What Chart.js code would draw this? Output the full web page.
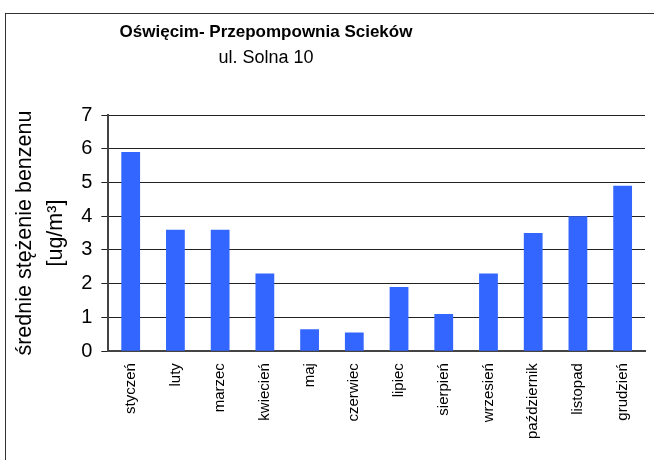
<!DOCTYPE html>
<html>
<head>
<meta charset="utf-8">
<script src="https://cdn.jsdelivr.net/npm/chart.js@4"></script>
<style>
  html, body { margin: 0; padding: 0; background: #fff; overflow: hidden; }
  #wrap { width: 654px; height: 460px; }
</style>
</head>
<body>
<div id="wrap"><canvas id="benzen"></canvas></div>
<script>
const months = ['styczeń', 'luty', 'marzec', 'kwiecień', 'maj', 'czerwiec',
  'lipiec', 'sierpień', 'wrzesień', 'październik', 'listopad', 'grudzień'];
const benzene = [5.9, 3.6, 3.6, 2.3, 0.65, 0.55, 1.9, 1.1, 2.3, 3.5, 4.0, 4.9];
const yTicks = [0, 1, 2, 3, 4, 5, 6, 7];

const FONT = "'Liberation Sans', Arial, sans-serif";

// outer frame around the whole chart
const framePlugin = {
  id: 'frame',
  beforeDraw(chart) {
    const ctx = chart.ctx;
    ctx.save();
    ctx.fillStyle = '#fff';
    ctx.fillRect(0, 0, chart.width, chart.height);
    ctx.strokeStyle = '#333';
    ctx.lineWidth = 1;
    ctx.strokeRect(5.5, 13.5, 700, 500);
    ctx.restore();
  }
};

// title and subtitle are centred over the left part of the frame
const titleSpan = { left: 0, right: 532 };
const titleShift = {
  id: 'titleShift',
  afterLayout(chart) {
    chart.boxes.forEach(b => {
      if (!b.axis && b.options && typeof b.options.text === 'string' && b.options.text) {
        b.left = titleSpan.left;
        b.right = titleSpan.right;
        b.width = titleSpan.right - titleSpan.left;
      }
    });
  }
};

new Chart(document.getElementById('benzen'), {
  type: 'bar',
  data: {
    labels: months,
    datasets: [{
      data: benzene,
      backgroundColor: '#3366ff',
      categoryPercentage: 1,
      barPercentage: 0.42
    }]
  },
  options: {
    responsive: true,
    maintainAspectRatio: false,
    animation: false,
    layout: { padding: { left: 9, right: 9, top: 0, bottom: 9 } },
    plugins: {
      legend: { display: false },
      tooltip: { enabled: false },
      title: {
        display: true,
        text: 'Oświęcim- Przepompownia Scieków',
        color: '#000',
        font: { family: FONT, size: 17, weight: 'bold' },
        padding: { top: 22, bottom: 5 }
      },
      subtitle: {
        display: true,
        text: 'ul. Solna 10',
        color: '#000',
        font: { family: FONT, size: 18 },
        padding: { top: 0, bottom: 46 }
      }
    },
    scales: {
      x: {
        grid: { display: false, drawTicks: false },
        border: { display: true, color: '#444', width: 2 },
        ticks: {
          autoSkip: false,
          minRotation: 90,
          maxRotation: 90,
          padding: 12,
          color: '#000',
          font: { family: FONT, size: 15 }
        }
      },
      y: {
        min: 0,
        max: 7,
        afterBuildTicks(scale) {
          scale.ticks = yTicks.map(v => ({ value: v }));
        },
        grid: { color: '#222', lineWidth: 1, tickLength: 7 },
        border: { display: true, color: '#444', width: 2 },
        ticks: {
          padding: 9,
          color: '#000',
          font: { family: FONT, size: 20 }
        },
        title: {
          display: true,
          text: ['średnie stężenie benzenu', '[ug/m³]'],
          color: '#000',
          font: { family: FONT, size: 21.5, lineHeight: 1.47 },
          padding: { top: 0, bottom: 0 }
        }
      }
    }
  },
  plugins: [framePlugin, titleShift]
});
</script>
</body>
</html>
